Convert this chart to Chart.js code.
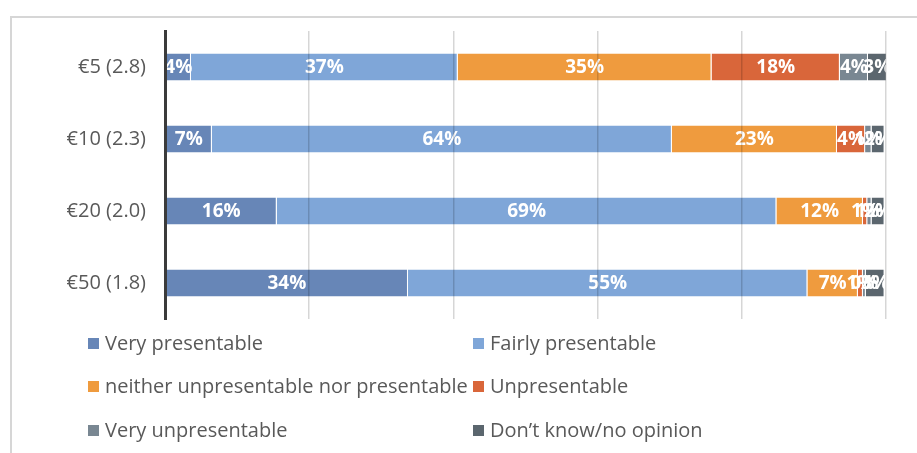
<!DOCTYPE html>
<html>
<head>
<meta charset="utf-8">
<script src="https://cdn.jsdelivr.net/npm/chart.js@4/dist/chart.umd.min.js"></script>
<style>
  html, body { margin: 0; padding: 0; background: #fff; overflow: hidden; }
  #wrap { position: relative; width: 917px; height: 453px; }
  #frame { position: absolute; left: 10px; top: 16px; width: 1000px; height: 1000px; border: 2px solid #d6d6d6; }
  #chart { position: absolute; left: 0; top: 0; }
  #legend { position: absolute; left: 0; top: 0; font-family: "Open Sans", "Noto Sans", sans-serif; font-size: 20px; color: #595959; }
  .item { position: absolute; white-space: nowrap; line-height: 22px; }
  .box { display: inline-block; width: 11px; height: 11px; margin-right: 6px; vertical-align: 1px; }
</style>
</head>
<body>
<div id="wrap">
  <div id="frame"></div>
  <canvas id="chart" width="917" height="453"></canvas>
  <div id="legend"></div>
</div>
<script>
var categories = ['€5 (2.8)', '€10 (2.3)', '€20 (2.0)', '€50 (1.8)'];
var seriesNames = ['Very presentable', 'Fairly presentable', 'neither unpresentable nor presentable', 'Unpresentable', 'Very unpresentable', 'Don\u2019t know/no opinion'];
var veryPresentable = [3.6, 6.5, 15.5, 33.7];
var fairlyPresentable = [37, 63.8, 69.3, 55.4];
var neither = [35.2, 22.9, 12, 7];
var unpresentable = [17.8, 3.9, 0.6, 0.7];
var veryUnpresentable = [3.9, 0.9, 0.6, 0.4];
var dontKnow = [2.6, 1.8, 1.8, 2.6];
var xTicks = [0, 20, 40, 60, 80, 100];

var colors = ['#6786b7', '#7fa6d8', '#ef9b3e', '#d9663a', '#798792', '#5b666e'];
var values = [veryPresentable, fairlyPresentable, neither, unpresentable, veryUnpresentable, dontKnow];

var datasets = [];
for (var i = 0; i < values.length; i++) {
  datasets.push({
    label: seriesNames[i],
    data: values[i],
    backgroundColor: colors[i],
    borderColor: 'rgba(255,255,255,0.7)',
    borderWidth: {left: 0, right: 1, top: 0, bottom: 0},
    borderSkipped: false,
    barPercentage: 0.375,
    categoryPercentage: 1
  });
}

// white percentage text in the middle of every segment
var segmentLabels = {
  id: 'segmentLabels',
  afterDatasetsDraw: function(chart) {
    var ctx = chart.ctx;
    ctx.save();
    ctx.fillStyle = '#ffffff';
    ctx.font = 'bold 19px "Open Sans", "Noto Sans", sans-serif';
    ctx.textAlign = 'center';
    ctx.textBaseline = 'middle';
    chart.data.datasets.forEach(function(ds, di) {
      var meta = chart.getDatasetMeta(di);
      meta.data.forEach(function(bar, j) {
        var p = bar.getProps(['x', 'y', 'base'], true);
        var cx = (p.x + p.base) / 2;
        ctx.fillText(Math.round(ds.data[j]) + '%', cx, p.y + 1);
      });
    });
    ctx.restore();
  }
};

var chart = new Chart(document.getElementById('chart').getContext('2d'), {
  type: 'bar',
  data: { labels: categories, datasets: datasets },
  plugins: [segmentLabels],
  options: {
    indexAxis: 'y',
    responsive: false,
    animation: false,
    layout: { padding: { left: 0, right: 31, top: 31, bottom: 134 } },
    plugins: { legend: { display: false }, tooltip: { enabled: false } },
    scales: {
      x: {
        stacked: true,
        min: 0,
        max: 100,
        afterBuildTicks: function(scale) {
          scale.ticks = xTicks.map(function(v) { return { value: v }; });
        },
        afterFit: function(scale) { scale.height = 0; },
        ticks: { display: false },
        border: { display: false },
        grid: { color: 'rgba(0,0,0,0.16)', lineWidth: 1.5, drawTicks: false, z: 1 }
      },
      y: {
        stacked: true,
        afterFit: function(scale) { scale.width = 165; },
        ticks: { color: '#595959', padding: 19, font: { family: '"Open Sans", "Noto Sans", sans-serif', size: 20 } },
        grid: { display: false, drawTicks: false },
        border: { display: true, color: '#3b3b3b', width: 3, z: 2 }
      }
    }
  }
});

// two column legend under the plot
var legendEl = document.getElementById('legend');
var colX = [88, 473];
var rowY = [343, 386, 430];
chart.data.datasets.forEach(function(ds, i) {
  var item = document.createElement('div');
  item.className = 'item';
  item.style.left = colX[i % 2] + 'px';
  item.style.top = (rowY[Math.floor(i / 2)] - 11) + 'px';
  var box = document.createElement('span');
  box.className = 'box';
  box.style.background = ds.backgroundColor;
  item.appendChild(box);
  item.appendChild(document.createTextNode(ds.label));
  legendEl.appendChild(item);
});
</script>
</body>
</html>
